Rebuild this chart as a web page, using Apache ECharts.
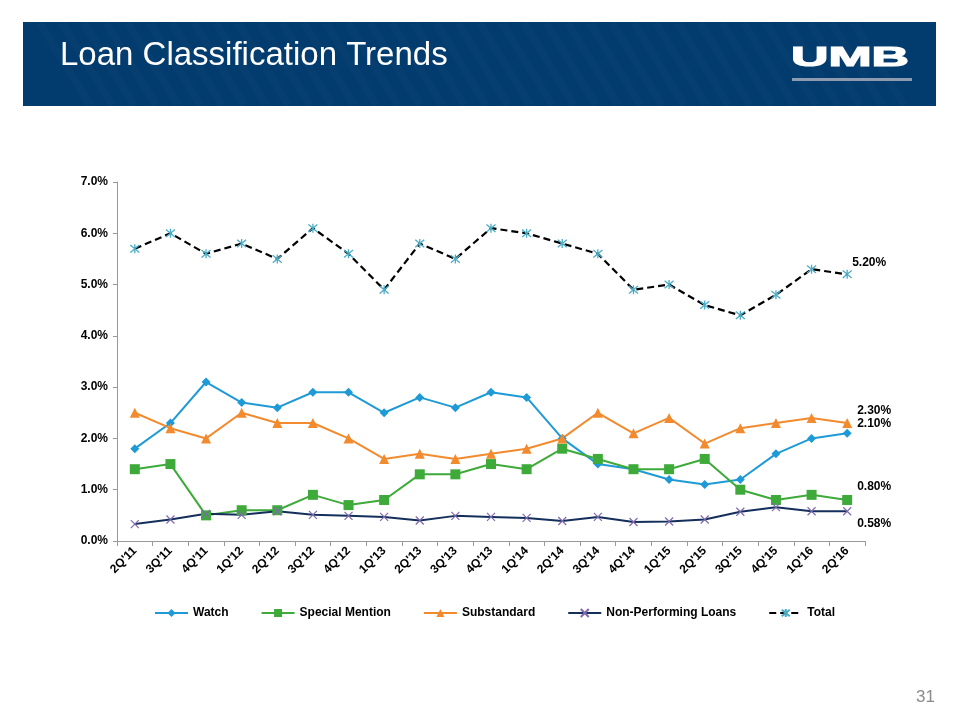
<!DOCTYPE html>
<html><head><meta charset="utf-8">
<script src="https://cdn.jsdelivr.net/npm/echarts@6/dist/echarts.min.js"></script>
<style>html,body{margin:0;padding:0;background:#fff}#c{width:960px;height:720px}</style>
</head><body><div id="c"></div>
<script>
const categories = ["2Q'11","3Q'11","4Q'11","1Q'12","2Q'12","3Q'12","4Q'12","1Q'13","2Q'13","3Q'13","4Q'13","1Q'14","2Q'14","3Q'14","4Q'14","1Q'15","2Q'15","3Q'15","4Q'15","1Q'16","2Q'16"];
const watch = [1.8,2.3,3.1,2.7,2.6,2.9,2.9,2.5,2.8,2.6,2.9,2.8,2.0,1.5,1.4,1.2,1.1,1.2,1.7,2.0,2.1];
const specialMention = [1.4,1.5,0.5,0.6,0.6,0.9,0.7,0.8,1.3,1.3,1.5,1.4,1.8,1.6,1.4,1.4,1.6,1.0,0.8,0.9,0.8];
const substandard = [2.5,2.2,2.0,2.5,2.3,2.3,2.0,1.6,1.7,1.6,1.7,1.8,2.0,2.5,2.1,2.4,1.9,2.2,2.3,2.4,2.3];
const nonPerforming = [0.33,0.42,0.53,0.51,0.58,0.51,0.49,0.47,0.40,0.49,0.47,0.45,0.39,0.47,0.37,0.38,0.42,0.57,0.66,0.58,0.58];
const total = [5.7,6.0,5.6,5.8,5.5,6.1,5.6,4.9,5.8,5.5,6.1,6.0,5.8,5.6,4.9,5.0,4.6,4.4,4.8,5.3,5.2];
const yTicks = [0,1,2,3,4,5,6,7];

const FONT = 'Arial, "Liberation Sans", sans-serif';

function withEndLabel(arr, offset) {
  return arr.map((v, i) => i === arr.length - 1 ? {
    value: v,
    label: { show: true, position: 'inside', offset: offset, formatter: v.toFixed(2) + '%',
      color: '#000', fontWeight: 'bold', fontSize: 12, fontFamily: FONT }
  } : v);
}

const xPath = 'path://M0,0L10,10M10,0L0,10';
const starPath = 'path://M0,0L10,10M10,0L0,10M5,-1L5,11';

const chart = echarts.init(document.getElementById('c'), null, { renderer: 'canvas' });

// subtle header stripes
const stripes = [];
for (let x = 40; x < 870; x += 22) {
  stripes.push({ type: 'line', silent: true, shape: { x1: x, y1: 23, x2: x + 50, y2: 105 },
    style: { stroke: 'rgba(255,255,255,0.018)', lineWidth: 8 } });
}

chart.setOption({
  animation: false,
  backgroundColor: '#fff',
  graphic: [
    { type: 'rect', shape: { x: 23, y: 22, width: 913, height: 84 }, style: { fill: '#023B6E' } },
    ...stripes,
    { type: 'text', x: 60, y: 39, style: { text: 'Loan Classification Trends', font: 'normal 33px ' + FONT, fill: '#fff', textVerticalAlign: 'top' } },
    { type: 'text', x: 791, y: 44, scaleX: 1.85, style: { text: 'UMB', font: 'bold 28px ' + FONT, fill: '#fff', stroke: '#fff', lineWidth: 1.2, textVerticalAlign: 'top' } },
    { type: 'rect', shape: { x: 792, y: 78, width: 120, height: 3 }, style: { fill: '#8C9BAD' } },
    { type: 'text', x: 935, y: 689, style: { text: '31', font: 'normal 17px ' + FONT, fill: '#8a8a8a', textAlign: 'right', textVerticalAlign: 'top' } }
  ],
  grid: { left: 117, right: 95, top: 182, bottom: 179, containLabel: false },
  legend: {
    left: 149, top: 602, itemWidth: 33, itemHeight: 10, itemGap: 32,
    textStyle: { fontFamily: FONT, fontWeight: 'bold', fontSize: 12, color: '#000' },
    data: ['Watch', 'Special Mention', 'Substandard', 'Non-Performing Loans', 'Total']
  },
  xAxis: {
    type: 'category', data: categories, boundaryGap: true,
    axisLine: { lineStyle: { color: '#999', width: 1 } },
    axisTick: { show: true, length: 5, lineStyle: { color: '#999' } },
    axisLabel: { rotate: 45, interval: 0, margin: 8, fontFamily: FONT, fontWeight: 'bold', fontSize: 12, color: '#000' }
  },
  yAxis: {
    type: 'value', min: yTicks[0], max: yTicks[yTicks.length - 1], interval: 1,
    axisLine: { show: true, lineStyle: { color: '#999', width: 1 } },
    axisTick: { show: true, length: 4, inside: false, lineStyle: { color: '#999' } },
    splitLine: { show: false },
    axisLabel: { formatter: v => v.toFixed(1) + '%', margin: 9, fontFamily: FONT, fontWeight: 'bold', fontSize: 12, color: '#000' }
  },
  series: [
    { name: 'Watch', type: 'line', data: withEndLabel(watch, [27, -10]), symbol: 'diamond', symbolSize: 9,
      lineStyle: { color: '#1E9AD6', width: 2 }, itemStyle: { color: '#1E9AD6' }, emphasis: { disabled: true } },
    { name: 'Special Mention', type: 'line', data: withEndLabel(specialMention, [27, -13]), symbol: 'rect', symbolSize: 10,
      lineStyle: { color: '#3DAA3A', width: 2 }, itemStyle: { color: '#3DAA3A' }, emphasis: { disabled: true } },
    { name: 'Substandard', type: 'line', data: withEndLabel(substandard, [27, -12]), symbol: 'triangle', symbolSize: 10,
      lineStyle: { color: '#F28A2E', width: 2 }, itemStyle: { color: '#F28A2E' }, emphasis: { disabled: true } },
    { name: 'Non-Performing Loans', type: 'line', data: withEndLabel(nonPerforming, [27, 12]), symbol: xPath, symbolSize: 8,
      lineStyle: { color: '#142F5C', width: 2 }, itemStyle: { color: '#7F6AAE', borderColor: '#7F6AAE', borderWidth: 1.2 }, emphasis: { disabled: true } },
    { name: 'Total', type: 'line', data: withEndLabel(total, [22, -12]), symbol: starPath, symbolSize: 9,
      lineStyle: { color: '#000', width: 2.2, type: [7, 4] }, itemStyle: { color: '#4BACC6', borderColor: '#4BACC6', borderWidth: 1.3 }, emphasis: { disabled: true } }
  ]
});
</script></body></html>
